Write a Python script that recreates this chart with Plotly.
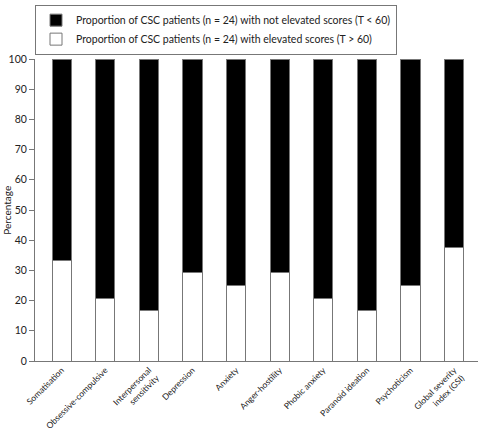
import plotly.graph_objects as go

categories = ["Somatisation", "Obsessive-compulsive", "Interpersonal<br>sensitivity",
              "Depression", "Anxiety", "Anger-hostility", "Phobic anxiety",
              "Paranoid ideation", "Psychoticism", "Global severity<br>index (GSI)"]
elevated = [33.3, 20.8, 16.7, 29.2, 25.0, 29.2, 20.8, 16.7, 25.0, 37.5]
not_elevated = [100 - v for v in elevated]
y_title = "Percentage"

x_idx = list(range(len(categories)))
font = dict(family="Lato, DejaVu Sans, sans-serif", size=10, color="#222")

fig = go.Figure()
fig.add_trace(go.Bar(x=x_idx, y=elevated, width=0.44,
                     marker=dict(color="white", line=dict(color="#777", width=1)),
                     name="Proportion of CSC patients (n = 24) with elevated scores (T > 60)"))
fig.add_trace(go.Bar(x=x_idx, y=not_elevated, width=0.44,
                     marker=dict(color="black", line=dict(color="#777", width=1)),
                     name="Proportion of CSC patients (n = 24) with not elevated scores (T < 60)"))

fig.update_layout(
    width=480, height=431, barmode="stack",
    margin=dict(l=35, r=2, t=59, b=70, autoexpand=False),
    plot_bgcolor="white", paper_bgcolor="white",
    font=font,
    showlegend=True,
    legend=dict(x=0.0, y=1.18, xanchor="left", yanchor="top",
                traceorder="reversed", bordercolor="#777", borderwidth=1,
                font=dict(size=10.5), bgcolor="white", itemwidth=30,
                tracegroupgap=0),
    xaxis=dict(tickmode="array", tickvals=x_idx, ticktext=categories,
               tickangle=-45, range=[-0.61, 9.55], showline=True,
               linecolor="#777", linewidth=1, ticks="", showgrid=False,
               automargin=False, ticklabeloverflow="allow", tickfont=dict(size=8.5)),
    yaxis=dict(range=[0, 100], tickvals=list(range(0, 101, 10)), showline=True,
               linecolor="#777", linewidth=1, ticks="outside", ticklen=5,
               tickcolor="#777", showgrid=False, zeroline=False, automargin=False,
               tickfont=dict(size=10.5)),
    annotations=[dict(text=y_title, xref="paper", yref="paper", x=-0.064, y=0.5,
                      textangle=-90, showarrow=False, xanchor="center",
                      yanchor="middle", font=dict(size=10, color="#222"))],
)
fig.write_html("out.html", config={"displayModeBar": False},
               post_script="document.body.style.margin='0';document.body.style.overflow='hidden';")
